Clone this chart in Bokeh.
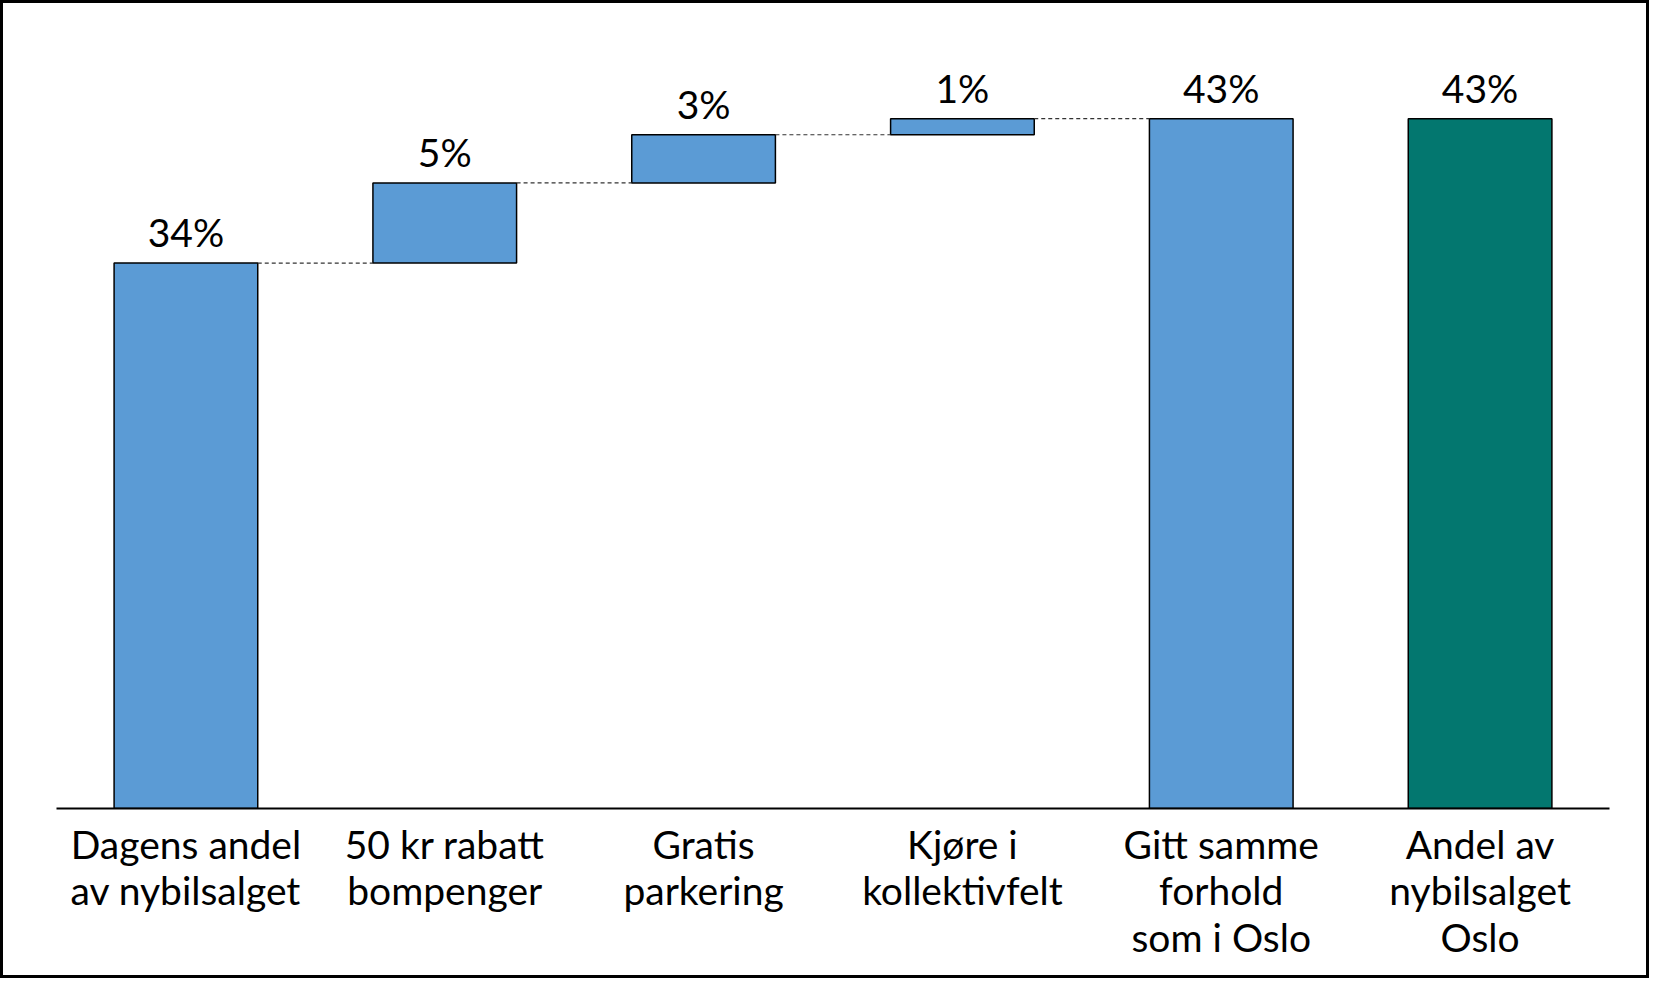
from bokeh.plotting import figure
from bokeh.models import ColumnDataSource, Range1d, FactorRange
from bokeh.transform import dodge
from bokeh.core.properties import value
from bokeh.embed import file_html
from bokeh.resources import INLINE

categories = ["Dagens andel\nav nybilsalget", "50 kr rabatt\nbompenger", "Gratis\nparkering",
              "Kjøre i\nkollektivfelt", "Gitt samme\nforhold\nsom i Oslo", "Andel av\nnybilsalget\nOslo"]
values = [34, 5, 3, 1, 43, 43]
kinds = ["total", "step", "step", "step", "total", "total"]
colors = ["#5B9BD5", "#5B9BD5", "#5B9BD5", "#5B9BD5", "#5B9BD5", "#03776F"]
labels = ["34%", "5%", "3%", "1%", "43%", "43%"]

bottoms, tops = [], []
run = 0
for v, k in zip(values, kinds):
    if k == "total":
        b, t = 0, v
        run = v
    else:
        b, t = run, run + v
        run = t
    bottoms.append(b)
    tops.append(t)

FONT = "Lato"
BAR_W = 0.555

p = figure(x_range=FactorRange(*categories, range_padding=0), y_range=Range1d(0, 48),
           width=1649, height=978, output_backend="svg", toolbar_location=None,
           min_border_left=56, min_border_right=40, min_border_top=38, min_border_bottom=170)
p.styles = {"outline": "3px solid black", "outline-offset": "-3px"}
p.background_fill_color = None
p.border_fill_color = None
p.outline_line_color = None
p.xgrid.visible = False
p.ygrid.visible = False
p.yaxis.visible = False

src = ColumnDataSource(dict(x=categories, top=tops, bottom=bottoms, color=colors, label=labels))
p.vbar(x="x", top="top", bottom="bottom", width=BAR_W, fill_color="color",
       line_color="black", line_width=1.5, source=src)

p.text(x="x", y="top", text="label", source=src, text_font=value(FONT), text_font_size="39px",
       text_align="center", text_baseline="alphabetic", y_offset=-31, text_color="black")

# connector lines
cx0, cx1, cy = [], [], []
for i in range(len(categories) - 1):
    if kinds[i + 1] == "step" or (kinds[i + 1] == "total" and kinds[i] == "step"):
        cx0.append(categories[i])
        cx1.append(categories[i + 1])
        cy.append(tops[i])
csrc = ColumnDataSource(dict(x0=cx0, x1=cx1, y=cy))
p.segment(x0=dodge("x0", BAR_W / 2, range=p.x_range), x1=dodge("x1", -BAR_W / 2, range=p.x_range),
          y0="y", y1="y", line_color="#333333", line_width=1.2, line_dash="4 3", source=csrc)

ax = p.xaxis[0]
ax.axis_line_color = "black"
ax.axis_line_width = 2
ax.major_tick_line_color = None
ax.minor_tick_line_color = None
ax.major_label_text_font = FONT
ax.major_label_text_font_size = "39px"
ax.major_label_text_color = "black"
ax.major_label_text_line_height = 1.02
ax.major_label_standoff = 6
ax.major_label_orientation = "horizontal"

open("out.html", "w").write(file_html(p, INLINE))
